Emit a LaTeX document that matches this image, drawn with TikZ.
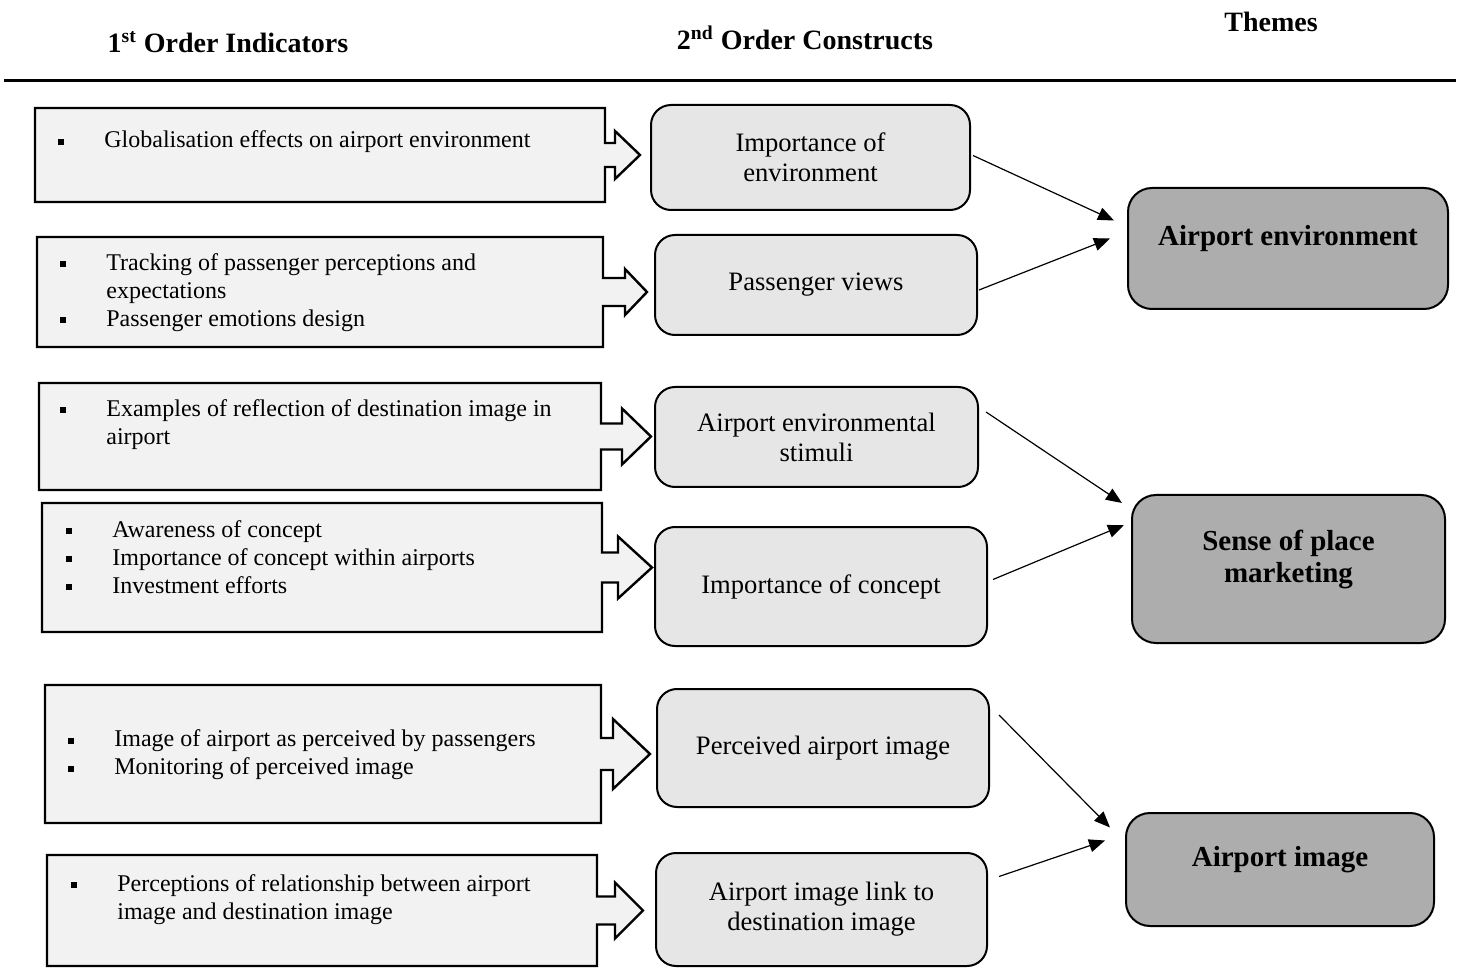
\documentclass[tikz,border=0pt]{standalone}
\usepackage{fontspec}
\setmainfont{Liberation Serif}
\usetikzlibrary{calc,arrows.meta}
\definecolor{indgray}{HTML}{F2F2F2}
\definecolor{congray}{HTML}{E6E6E6}
\definecolor{themegray}{HTML}{ADADAD}
% outline of an indicator box with its block arrow: node, shaft, head base, head, tip
\newcommand{\indarrow}[5]{%
  \draw[line width=1.2pt,fill=indgray] (#1.north west) -- (#1.north east)
    -- ($(#1.east)+(0,-#2)$) -- ($(#1.east)+(#3,-#2)$) -- ($(#1.east)+(#3,-#4)$)
    -- ($(#1.east)+(#5,0)$) -- ($(#1.east)+(#3,#4)$) -- ($(#1.east)+(#3,#2)$)
    -- ($(#1.east)+(0,#2)$) -- (#1.south east) -- (#1.south west) -- cycle;}
\newcommand{\bul}{\makebox[23pt][l]{\raisebox{1.6pt}{\rule{3pt}{3pt}}}}
\newcommand{\bulgap}{\hspace*{23pt}}
\begin{document}
\begin{tikzpicture}[x=0.5pt,y=-0.5pt,
    head/.style={font=\bfseries\fontsize{14}{16}\selectfont,inner sep=0},
    indbox/.style={rectangle,inner sep=0,outer sep=0},
    indtext/.style={font=\fontsize{12}{14}\selectfont,align=left,inner sep=0,anchor=west},
    con/.style={draw,line width=1pt,rounded corners=10pt,fill=congray,align=center,
      font=\fontsize{13.3}{15}\selectfont,inner sep=0},
    theme/.style={draw,line width=1pt,rounded corners=12pt,fill=themegray,align=center,
      font=\bfseries\fontsize{14.5}{16}\selectfont,inner sep=0,text depth=13pt},
    link/.style={-{Triangle[length=8pt,width=6.5pt]},line width=0.6pt}]
\useasboundingbox (0,0) rectangle (1458,968);

% headings
\node[head] (h1) at (228,42) {1\textsuperscript{st} Order Indicators};
\node[head] (h2) at (805,38) {2\textsuperscript{nd} Order Constructs};
\node[head] (h3) at (1271,22) {Themes};
\draw[line width=1.5pt] (4,81) -- (1456,81);

% 1st order indicators
\node[indbox,minimum width=285pt,minimum height=47pt] (l1) at (320,155) {};
\node[indbox,minimum width=283pt,minimum height=55pt] (l2) at (320,292) {};
\node[indbox,minimum width=281pt,minimum height=53.5pt] (l3) at (320,436.5) {};
\node[indbox,minimum width=280pt,minimum height=64.5pt] (l4) at (322,567.5) {};
\node[indbox,minimum width=278pt,minimum height=69pt] (l5) at (323,754) {};
\node[indbox,minimum width=275pt,minimum height=55.5pt] (l6) at (322,910.5) {};
\indarrow{l1}{12}{10}{24}{35}
\indarrow{l2}{14}{22}{23}{44}
\indarrow{l3}{13}{21}{28}{50}
\indarrow{l4}{15}{16}{31}{50}
\indarrow{l5}{16}{12}{35}{49}
\indarrow{l6}{14}{18}{28}{46}
\node[indtext] (t1) at (58,142) {\bul Globalisation effects on airport environment};
\node[indtext] (t2) at (60,292.5) {\bul Tracking of passenger perceptions and\\
  \bulgap expectations\\ \bul Passenger emotions design};
\node[indtext] (t3) at (60,424.5) {\bul Examples of reflection of destination image in\\
  \bulgap airport};
\node[indtext] (t4) at (66,557) {\bul Awareness of concept\\
  \bul Importance of concept within airports\\ \bul Investment efforts};
\node[indtext] (t5) at (68,755) {\bul Image of airport as perceived by passengers\\
  \bul Monitoring of perceived image};
\node[indtext] (t6) at (71,899.5) {\bul Perceptions of relationship between airport\\
  \bulgap image and destination image};

% 2nd order constructs
\node[con,minimum width=159.5pt,minimum height=52.5pt] (m1) at (810.5,157.5) {Importance of\\environment};
\node[con,minimum width=161pt,minimum height=50pt] (m2) at (816,285) {Passenger views};
\node[con,minimum width=161.5pt,minimum height=50pt] (m3) at (816.5,437) {Airport environmental\\stimuli};
\node[con,minimum width=166pt,minimum height=59.5pt] (m4) at (821,586.5) {Importance of concept};
\node[con,minimum width=166pt,minimum height=59pt] (m5) at (823,748) {Perceived airport image};
\node[con,minimum width=165.5pt,minimum height=56.5pt] (m6) at (821.5,909.5) {Airport image link to\\destination image};

% themes
\node[theme,minimum width=160pt,minimum height=60.5pt] (r1) at (1288,248.5) {Airport environment};
\node[theme,minimum width=156.5pt,minimum height=74pt] (r2) at (1288.5,569) {Sense of place\\marketing};
\node[theme,minimum width=154pt,minimum height=56.5pt] (r3) at (1280,869.5) {Airport image};

\draw[link] ($(m1.east)+(2,-2)$) -- ($(r1.west)+(-13,-28)$);
\draw[link] ($(m2.east)+(1,5)$) -- ($(r1.west)+(-17,-10)$);
\draw[link] ($(m3.east)+(7,-25)$) -- ($(r2.west)+(-9,-66)$);
\draw[link] ($(m4.east)+(5,-7)$) -- ($(r2.west)+(-7,-44)$);
\draw[link] ($(m5.east)+(9,-33)$) -- ($(r3.west)+(-15,-42)$);
\draw[link] ($(m6.east)+(11,-33)$) -- ($(r3.west)+(-20,-29)$);
\end{tikzpicture}
\end{document}
